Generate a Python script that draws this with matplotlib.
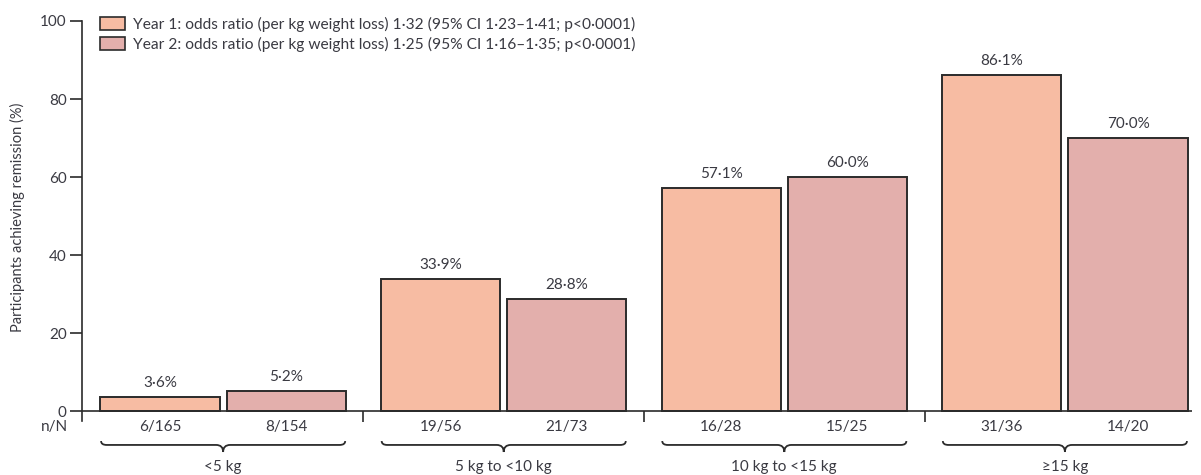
import matplotlib
matplotlib.use("Agg")
import matplotlib.pyplot as plt
from matplotlib.patches import Patch, PathPatch
from matplotlib.path import Path

plt.rcParams['font.family'] = ['Lato', 'DejaVu Sans']

# remission by weight-loss band
groups = ['<5 kg', '5 kg to <10 kg', '10 kg to <15 kg', '\u226515 kg']
year1 = [3.6, 33.9, 57.1, 86.1]
year2 = [5.2, 28.8, 60.0, 70.0]
year1_nN = ['6/165', '19/56', '16/28', '31/36']
year2_nN = ['8/154', '21/73', '15/25', '14/20']
legend_labels = [
    'Year 1: odds ratio (per kg weight loss) 1\u00b732 (95% CI 1\u00b723\u20131\u00b741; p<0\u00b70001)',
    'Year 2: odds ratio (per kg weight loss) 1\u00b725 (95% CI 1\u00b716\u20131\u00b735; p<0\u00b70001)',
]
yticks = [0, 20, 40, 60, 80, 100]

c1 = '#F7BCA3'
c2 = '#E3AFAC'
edge = '#2b2b2b'
txt = '#3a3a42'

fig = plt.figure(figsize=(12.01, 4.75), dpi=100)
ax = fig.add_axes([82 / 1201, 54 / 475, 1110 / 1201, 400 / 475])

x = list(range(len(groups)))
w = 0.425
off = 0.225
x1 = [i - off for i in x]
x2 = [i + off for i in x]
b1 = ax.bar(x1, year1, w, color=c1, edgecolor=edge, linewidth=1.4)
b2 = ax.bar(x2, year2, w, color=c2, edgecolor=edge, linewidth=1.4)

def pct(v):
    return ('%.1f%%' % v).replace('.', '\u00b7')

for xs, vals in ((x1, year1), (x2, year2)):
    for xi, v in zip(xs, vals):
        ax.annotate(pct(v), (xi, v), xytext=(0, 5), textcoords='offset points',
                    ha='center', va='bottom', fontsize=11, color=txt)

ax.set_xlim(-0.503, 3.453)
ax.set_ylim(-2.56, 100)
ax.set_yticks(yticks)
ax.set_yticklabels([str(t) for t in yticks], fontsize=11, color=txt)
ax.tick_params(axis='y', length=9, width=1.2, color=edge, pad=2)
ax.set_xticks([])
for s in ('top', 'right', 'bottom'):
    ax.spines[s].set_visible(False)
ax.spines['left'].set_linewidth(1.2)
ax.spines['left'].set_color(edge)

# baseline at 0 and separators between groups
ax.axhline(0, color=edge, linewidth=1.2, zorder=3)
ax.vlines([0.5, 1.5, 2.5], -2.8, 0, color=edge, linewidth=1.2, clip_on=False)

# n/N row
ax.text(-0.553, -4.1, 'n/N', ha='right', va='center', fontsize=11, color=txt, clip_on=False)
for xs, labs in ((x1, year1_nN), (x2, year2_nN)):
    for xi, lab in zip(xs, labs):
        ax.text(xi, -4.1, lab, ha='center', va='center', fontsize=11, color=txt, clip_on=False)

# curly braces under each group
def brace(c, half=0.435, y_top=-7.7, y_line=-8.7, y_tip=-10.5, r=0.02, d=0.025):
    L, R = c - half, c + half
    verts = [(L, y_top), (L, y_line), (L + r, y_line),
             (c - d, y_line), (c, y_line), (c, y_tip),
             (c, y_line), (c + d, y_line),
             (R - r, y_line), (R, y_line), (R, y_top)]
    codes = [Path.MOVETO, Path.CURVE3, Path.CURVE3,
             Path.LINETO, Path.CURVE3, Path.CURVE3,
             Path.CURVE3, Path.CURVE3,
             Path.LINETO, Path.CURVE3, Path.CURVE3]
    ax.add_patch(PathPatch(Path(verts, codes), fill=False, edgecolor=edge,
                           linewidth=1.3, clip_on=False))

for i, g in zip(x, groups):
    brace(i)
    ax.text(i, -12.6, g, ha='center', va='top', fontsize=11, color=txt, clip_on=False)

fig.text(17 / 1201, 1 - 217 / 475, 'Participants achieving remission (%)', rotation=90,
         ha='center', va='center', fontsize=10.5, color=txt)

handles = [Patch(facecolor=c1, edgecolor=edge, linewidth=1.2),
           Patch(facecolor=c2, edgecolor=edge, linewidth=1.2)]
ax.legend(handles, legend_labels, loc='upper left', bbox_to_anchor=(18 / 1110, 1.01),
          frameon=False, fontsize=11.2, handlelength=1.6, handleheight=0.9,
          handletextpad=0.5, labelspacing=0.3, borderaxespad=0, borderpad=0,
          labelcolor=txt)

fig.savefig('out.png', dpi=100)
